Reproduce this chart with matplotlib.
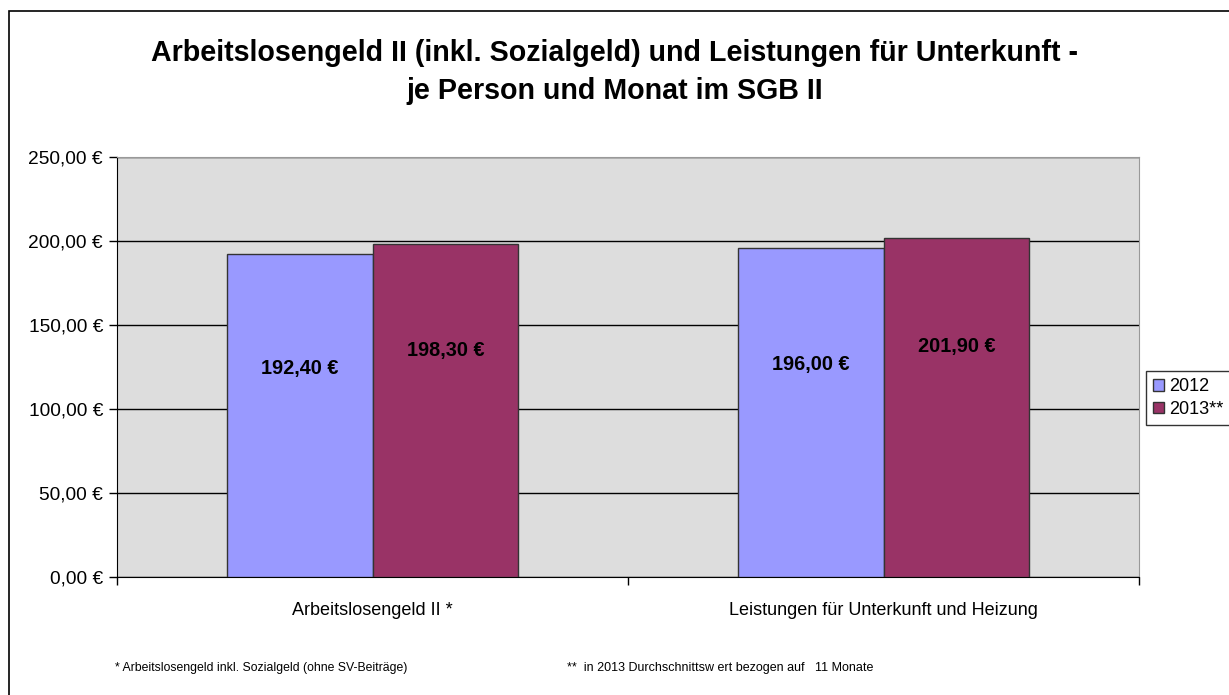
import matplotlib.pyplot as plt
import numpy as np
from matplotlib.patches import Rectangle

plt.rcParams["font.family"] = ["Liberation Sans", "DejaVu Sans"]

categories = ["Arbeitslosengeld II *", "Leistungen für Unterkunft und Heizung"]
years = ["2012", "2013**"]
values_2012 = [192.40, 196.00]
values_2013 = [198.30, 201.90]
yticks = [0, 50, 100, 150, 200, 250]

COLORS = ["#9999FF", "#993366"]
BAR_W = 0.285


def euro(v):
    return f"{v:.2f}".replace(".", ",") + " €"


fig = plt.figure(figsize=(12.29, 6.95), dpi=100)
ax = fig.add_axes([0.0952, 0.1698, 0.8316, 0.6043])
ax.set_facecolor("#DDDDDD")

x = np.arange(len(categories))
series = [values_2012, values_2013]
bars = []
for i, (vals, col) in enumerate(zip(series, COLORS)):
    off = (i - 0.5) * BAR_W
    b = ax.bar(x + off, vals, width=BAR_W, color=col, edgecolor="#333333",
               linewidth=1.0, zorder=3, label=years[i])
    bars.append(b)
    # Excel places the labels a bit above the middle of the bar
    frac = 0.645 if i == 0 else 0.68
    for xi, v in zip(x + off, vals):
        ax.text(xi, v * frac, euro(v), ha="center", va="center",
                fontsize=14.3, fontweight="bold", zorder=4)

ax.set_xlim(-0.5, len(categories) - 0.5)
ax.set_ylim(0, 250)
ax.set_yticks(yticks)
ax.set_yticklabels([euro(v) for v in yticks], fontsize=13.8)
ax.yaxis.grid(True, color="black", linewidth=1.0, zorder=1)
ax.set_axisbelow(True)

ax.set_xticks([-0.5, 0.5, 1.5], minor=False)
ax.set_xticklabels([])
ax.set_xticks(x, minor=True)
ax.set_xticklabels(categories, minor=True, fontsize=13)
ax.tick_params(axis="x", which="minor", length=0, pad=18)
ax.tick_params(axis="x", which="major", length=6, width=1, direction="out")
ax.tick_params(axis="y", length=6, width=1, direction="out", pad=4)

for side in ["top", "right"]:
    ax.spines[side].set_color("#999999")
ax.spines["left"].set_color("black")
ax.spines["bottom"].set_color("black")

fig.text(0.5, 1 - 72 / 695,
         "Arbeitslosengeld II (inkl. Sozialgeld) und Leistungen für Unterkunft -\n"
         "je Person und Monat im SGB II",
         ha="center", va="center", fontsize=20.6, fontweight="bold",
         linespacing=1.42)

fig.text(115 / 1229, 1 - 668 / 695,
         "* Arbeitslosengeld inkl. Sozialgeld (ohne SV-Beiträge)",
         ha="left", va="center", fontsize=8.8)
fig.text(567 / 1229, 1 - 668 / 695,
         "**  in 2013 Durchschnittsw ert bezogen auf   11 Monate",
         ha="left", va="center", fontsize=9.0)

leg = fig.legend(handles=[b[0] for b in bars], labels=years,
                 loc="upper left", bbox_to_anchor=(1146 / 1229, 1 - 371 / 695),
                 fontsize=13, frameon=True, fancybox=False,
                 handlelength=0.6, handleheight=0.6, handletextpad=0.3,
                 borderpad=0.4, labelspacing=0.3, borderaxespad=0)
leg.get_frame().set_edgecolor("black")
leg.get_frame().set_linewidth(1.0)

fig.patches.append(Rectangle((9 / 1229, -0.01), 1.02, 1 - 11 / 695 + 0.01,
                             transform=fig.transFigure, fill=False,
                             edgecolor="black", linewidth=1.2, clip_on=False))

fig.savefig("out.png", dpi=100)
